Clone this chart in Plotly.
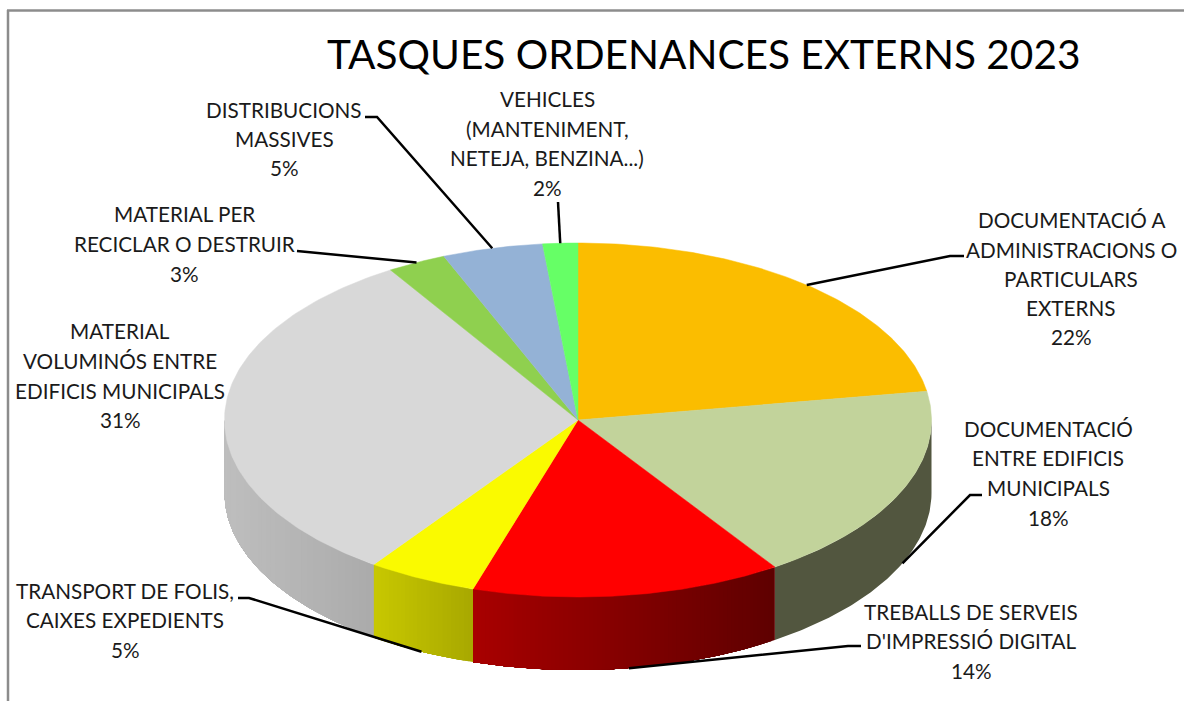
import numpy as np
import plotly.graph_objects as go

# ---- data ----
categories = [
    "DOCUMENTACIÓ A ADMINISTRACIONS O PARTICULARS EXTERNS",
    "DOCUMENTACIÓ ENTRE EDIFICIS MUNICIPALS",
    "TREBALLS DE SERVEIS D'IMPRESSIÓ DIGITAL",
    "TRANSPORT DE FOLIS, CAIXES EXPEDIENTS",
    "MATERIAL VOLUMINÓS ENTRE EDIFICIS MUNICIPALS",
    "MATERIAL PER RECICLAR O DESTRUIR",
    "DISTRIBUCIONS MASSIVES",
    "VEHICLES (MANTENIMENT, NETEJA, BENZINA...)",
]
values = [22.4, 18.2, 14.2, 5.0, 31.3, 2.7, 4.6, 1.6]
label_lines = [
    ["DOCUMENTACIÓ A", "ADMINISTRACIONS O", "PARTICULARS", "EXTERNS"],
    ["DOCUMENTACIÓ", "ENTRE EDIFICIS", "MUNICIPALS"],
    ["TREBALLS DE SERVEIS", "D'IMPRESSIÓ DIGITAL"],
    ["TRANSPORT DE FOLIS,", "CAIXES EXPEDIENTS"],
    ["MATERIAL", "VOLUMINÓS ENTRE", "EDIFICIS MUNICIPALS"],
    ["MATERIAL PER", "RECICLAR O DESTRUIR"],
    ["DISTRIBUCIONS", "MASSIVES"],
    ["VEHICLES", "(MANTENIMENT,", "NETEJA, BENZINA...)"],
]
title_text = "TASQUES ORDENANCES EXTERNS 2023"

# ---- style / layout ----
top_colors = ["#FBBD00", "#C2D39B", "#FF0000", "#FAFA00", "#D8D8D8", "#8FD04F", "#94B2D6", "#66FF66"]
wall_from = ["#52563F", "#52563F", "#A80000", "#C8C800", "#BEBEBE", "#777777", "#777777", "#777777"]
wall_to = ["#52563F", "#52563F", "#5E0000", "#A8A800", "#ABABAB", "#777777", "#777777", "#777777"]
CX, CY, RX, RY, DEPTH = 578.0, 420.0, 353.5, 177.0, 73.0
W, H = 1184, 701
FONT = "Lato"
TEXT = "#1a1a1a"
LABEL_SIZE = 20.7
label_center = [
    (1071, [220, 250, 279, 308, 337]),
    (1048, [429, 458, 488, 518]),
    (971, [612, 641, 671]),
    (125, [591, 620, 650]),
    (120, [331, 361, 391, 420]),
    (184, [214, 244, 274]),
    (284, [110, 139, 168]),
    (547, [99, 129, 158, 188]),
]
# leader: elbow points from the slice edge to the label (None = no leader)
leader_path = [
    [(950, 256), (964, 256)],
    [(970, 495), (982, 495)],
    [(848, 646), (861, 646)],
    [(249, 598), (238, 598)],
    None,
    [(310, 252), (297, 251)],
    [(377, 117), (365, 117)],
    [(558, 202)],
]
leader_on_wall = [False, True, True, True, False, False, False, False]


def hex2rgb(c):
    return np.array([int(c[i:i + 2], 16) for i in (1, 3, 5)], dtype=float)


def ex(t):
    return CX + RX * np.sin(t)


def ey(t):
    return CY - RY * np.cos(t)


total = sum(values)
edges = np.concatenate([[0.0], np.cumsum(values)]) / total * 2 * np.pi
fig = go.Figure()


def poly(xs, ys, color, name, line=0.0):
    fig.add_trace(go.Scatter(
        x=xs, y=ys, mode="lines", fill="toself", fillcolor=color, name=name,
        line=dict(color=color, width=line), hoverinfo="skip", showlegend=False,
    ))


# side walls (front half only), graded left-to-right in each slice;
# each strip runs on to the slice's end and the next one paints over it, so no seams show
for i, name in enumerate(categories):
    a, b = max(edges[i], np.pi / 2), min(edges[i + 1], 3 * np.pi / 2)
    if b <= a:
        continue
    c_right, c_left = hex2rgb(wall_to[i]), hex2rgb(wall_from[i])
    xa, xb = ex(a), ex(b)
    flat = wall_from[i] == wall_to[i]
    n = 1 if flat else max(2, int(abs(xa - xb) / 4))
    ts = np.linspace(a, b, n + 1)
    for k in range(n):
        s = np.linspace(ts[k], b, 90)
        xm = ex((ts[k] + ts[k + 1]) / 2)
        f = (xm - min(xa, xb)) / abs(xa - xb)
        col = c_left + (c_right - c_left) * f
        color = "rgb(%d,%d,%d)" % tuple(col.round())
        xs = np.concatenate([ex(s), ex(s)[::-1]])
        ys = np.concatenate([ey(s), ey(s)[::-1] + DEPTH])
        poly(np.append(xs, xs[0]), np.append(ys, ys[0]), color, name)

# top faces
for i, name in enumerate(categories):
    s = np.linspace(edges[i], edges[i + 1], 120)
    xs = np.concatenate([[CX], ex(s), [CX]])
    ys = np.concatenate([[CY], ey(s), [CY]])
    poly(xs, ys, top_colors[i], name, line=0.5)

# leader lines, anchored at each slice's mid angle
for i, path in enumerate(leader_path):
    if path is None:
        continue
    mid = (edges[i] + edges[i + 1]) / 2
    y0 = ey(mid) + (DEPTH if leader_on_wall[i] else 0)
    xs = [ex(mid)] + [p[0] for p in path]
    ys = [y0] + [p[1] for p in path]
    fig.add_trace(go.Scatter(x=xs, y=ys, mode="lines", line=dict(color="#000000", width=2.5),
                             hoverinfo="skip", showlegend=False))

# labels
annotations = []
for i, lines in enumerate(label_lines):
    pct = round(values[i] / total * 100)
    cx, ys = label_center[i]
    for txt, y in zip(lines + [f"{pct}%"], ys):
        annotations.append(dict(x=cx, y=y, text=txt, showarrow=False, xref="x", yref="y",
                                xanchor="center", yanchor="middle",
                                font=dict(family=FONT, size=LABEL_SIZE, color=TEXT)))
annotations.append(dict(x=703, y=53, text=title_text, showarrow=False, xref="x", yref="y",
                        xanchor="center", yanchor="middle",
                        font=dict(family=FONT, size=40.6, color="#000000")))

fig.update_layout(
    width=W, height=H, margin=dict(l=0, r=0, t=0, b=0),
    paper_bgcolor="white", plot_bgcolor="white",
    xaxis=dict(range=[0, W], visible=False, fixedrange=True),
    yaxis=dict(range=[H, 0], visible=False, fixedrange=True),
    annotations=annotations,
    shapes=[
        dict(type="line", x0=8, x1=8, y0=10, y1=H, xref="x", yref="y", line=dict(color="#8C8C8C", width=2.5)),
        dict(type="line", x0=7, x1=W, y0=10.5, y1=10.5, xref="x", yref="y", line=dict(color="#8C8C8C", width=2.5)),
    ],
)
fig.write_html("out.html", config={"displayModeBar": False},
               post_script="document.body.style.margin='0';document.documentElement.style.overflow='hidden';")
